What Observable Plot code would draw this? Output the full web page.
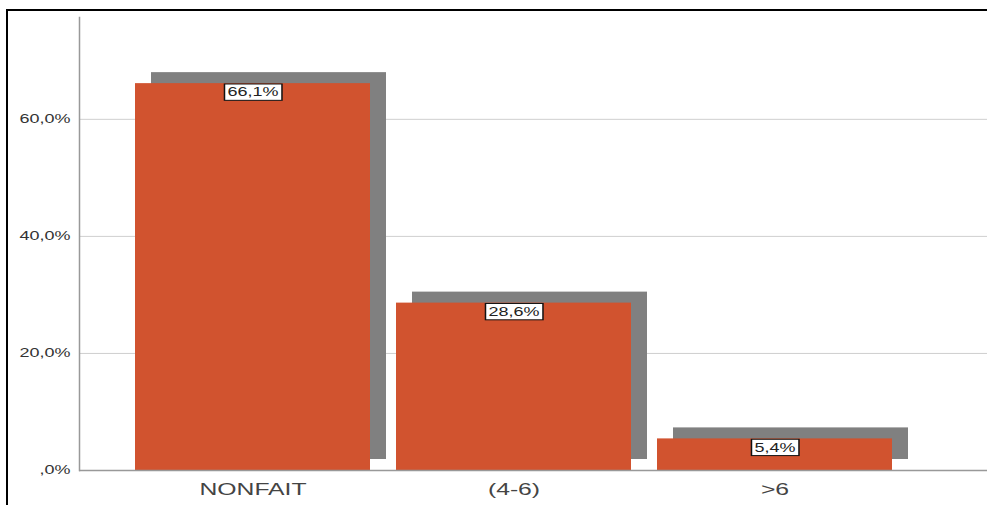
<!DOCTYPE html>
<html>
<head>
<meta charset="utf-8">
<script src="https://cdn.jsdelivr.net/npm/d3@7"></script>
<script src="https://cdn.jsdelivr.net/npm/@observablehq/plot@0.6"></script>
<style>
  html, body { margin: 0; padding: 0; background: #fff; }
  #wrap { position: relative; width: 987px; height: 505px; overflow: hidden; }
  #frame { position: absolute; left: 6px; top: 9px; width: 990px; height: 510px;
           border-left: 2px solid #000; border-top: 2px solid #000; pointer-events: none; }
  svg { font-family: "Liberation Sans", Arial, sans-serif; }
</style>
</head>
<body>
<div id="wrap"><div id="chart"></div><div id="frame"></div></div>
<script>
const categories = ["NONFAIT", "(4-6)", ">6"];
const percents = [66.1, 28.6, 5.4];
const yTicks = [0, 20, 40, 60];

const data = categories.map((c, i) => ({cat: c, pct: percents[i]}));
const fmt = d => {
  const [a, b] = d.toFixed(1).split(".");
  return (d === 0 ? "" : a) + "," + b + "%";
};

const chart = Plot.plot({
  width: 987,
  height: 505,
  marginLeft: 79,
  marginRight: 0,
  marginTop: 17,
  marginBottom: 35,
  style: {fontFamily: "Liberation Sans, Arial, sans-serif", background: "#fff"},
  x: {domain: categories, range: [135, 892], paddingInner: 0.1, paddingOuter: 0, label: null},
  y: {domain: [0, 77.4], label: null},
  marks: [
    Plot.gridY(yTicks.filter(d => d > 0), {stroke: "#cfcfcf", strokeOpacity: 1, strokeWidth: 1}),
    Plot.barY(data, {x: "cat", y: "pct", fill: "#808080", dx: 16, dy: -11}),
    Plot.barY(data, {x: "cat", y: "pct", fill: "#D1532F"}),
    Plot.ruleY([0], {stroke: "#999", strokeWidth: 1.5}),
    Plot.frame({anchor: "left", stroke: "#999", strokeWidth: 1.5}),
    Plot.axisY({ticks: yTicks, tickFormat: fmt, tickSize: 0, tickPadding: 9, fontSize: 12, fill: "#333", label: null, className: "stretch"}),
    Plot.axisX({tickSize: 0, tickPadding: 13, fontSize: 16.5, fill: "#444", label: null, className: "stretch"}),
    Plot.text(data, {x: "cat", y: "pct", text: d => fmt(d.pct), dy: 9, fontSize: 12, fill: "#222", className: "vlabel"})
  ]
});
document.getElementById("chart").appendChild(chart);

// the reference's type is stretched horizontally
const SX = 1.5;
chart.querySelectorAll(".stretch text, .vlabel text").forEach(t => {
  const tr = t.getAttribute("transform") || "";
  t.setAttribute("transform", tr + ` scale(${SX},1)`);
});

// white boxes with a black border behind the value labels
chart.querySelectorAll(".vlabel text").forEach(t => {
  const b = t.getBBox();
  const r = document.createElementNS("http://www.w3.org/2000/svg", "rect");
  r.setAttribute("x", b.x - 2);
  r.setAttribute("y", b.y - 1.5);
  r.setAttribute("width", b.width + 4);
  r.setAttribute("height", b.height + 3);
  r.setAttribute("fill", "#fff");
  r.setAttribute("stroke", "#111");
  r.setAttribute("stroke-width", 1);
  const tr = t.getAttribute("transform");
  if (tr) r.setAttribute("transform", tr);
  t.parentNode.insertBefore(r, t);
});
</script>
</body>
</html>
